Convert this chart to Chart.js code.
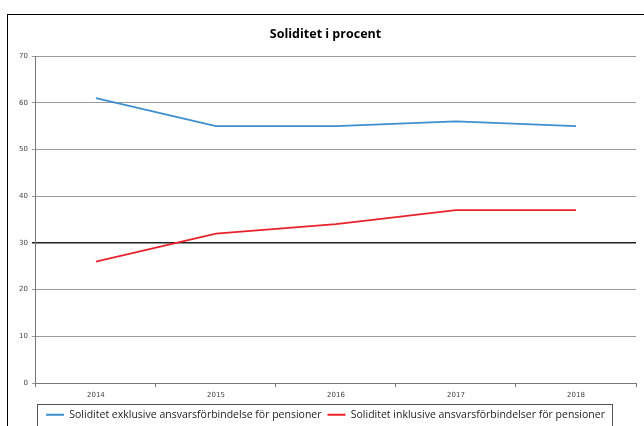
<!DOCTYPE html>
<html>
<head>
<meta charset="utf-8">
<script src="https://cdn.jsdelivr.net/npm/chart.js@4/dist/chart.umd.min.js"></script>
<style>
  body { margin: 0; background: #ffffff; }
  #chartContainer { width: 644px; height: 426px; }
</style>
</head>
<body>
<div id="chartContainer"><canvas id="myChart"></canvas></div>
<script>
// Data
const years = ['2014', '2015', '2016', '2017', '2018']
const exklusive = [61, 55, 55, 56, 55]
const inklusive = [26, 32, 34, 37, 37]
const yTicks = [0, 10, 20, 30, 40, 50, 60, 70]

// Frame round the whole chart and a box round the legend
const framePlugin = {
    id: 'frame',
    afterDraw(chart) {
        const ctx = chart.ctx
        ctx.save()
        ctx.strokeStyle = '#000000'
        ctx.lineWidth = 1
        ctx.strokeRect(7.5, 14.5, 640, 420)

        const lg = chart.legend
        if (lg && lg.legendHitBoxes.length) {
            let l = Infinity, r = -Infinity, t = Infinity, b = -Infinity
            lg.legendHitBoxes.forEach(h => {
                l = Math.min(l, h.left); r = Math.max(r, h.left + h.width)
                t = Math.min(t, h.top); b = Math.max(b, h.top + h.height)
            })
            ctx.strokeStyle = '#555555'
            ctx.strokeRect(Math.round(l) - 8.5, Math.round(t) - 5.5, Math.round(r - l) + 16, Math.round(b - t) + 11)
        }
        ctx.restore()
    }
}

const ctx = document.getElementById('myChart').getContext('2d')
const myChart = new Chart(ctx, {
    type: 'line',
    data: {
        labels: years,
        datasets: [{
            label: 'Soliditet exklusive ansvarsförbindelse för pensioner',
            data: exklusive,
            borderColor: '#3d8fcf',
            backgroundColor: '#3d8fcf',
            borderWidth: 1.8,
            pointRadius: 0,
            tension: 0
        }, {
            label: 'Soliditet inklusive ansvarsförbindelser för pensioner',
            data: inklusive,
            borderColor: '#e8222c',
            backgroundColor: '#e8222c',
            borderWidth: 1.8,
            pointRadius: 0,
            tension: 0
        }]
    },
    options: {
        responsive: true,
        maintainAspectRatio: false,
        animation: false,
        layout: { padding: { left: 15, right: 8, top: 22, bottom: -4 } },
        plugins: {
            title: {
                display: true,
                text: 'Soliditet i procent',
                color: '#000000',
                font: { family: 'Open Sans', size: 12.5, weight: 'bold' },
                padding: { top: 5, bottom: 14 }
            },
            legend: {
                position: 'bottom',
                labels: {
                    color: '#222222',
                    font: { family: 'Open Sans', size: 10.5 },
                    usePointStyle: true,
                    pointStyle: 'line',
                    pointStyleWidth: 18,
                    boxHeight: 8,
                    padding: 6
                }
            },
            tooltip: { enabled: false }
        },
        scales: {
            x: {
                offset: true,
                grid: {
                    offset: true,
                    drawOnChartArea: false,
                    drawTicks: true,
                    tickLength: 4,
                    color: '#777777'
                },
                border: { color: '#777777' },
                ticks: {
                    color: '#444444',
                    font: { family: 'DejaVu Sans', size: 7 },
                    padding: 4
                }
            },
            y: {
                min: 0,
                max: 70,
                afterBuildTicks: axis => { axis.ticks = yTicks.map(v => ({ value: v })) },
                grid: {
                    color: c => c.tick && c.tick.value === 30 ? '#222222' : '#9a9a9a',
                    lineWidth: c => c.tick && c.tick.value === 30 ? 1.5 : 1,
                    tickLength: 4
                },
                border: { color: '#777777' },
                ticks: {
                    color: '#444444',
                    font: { family: 'DejaVu Sans', size: 7 },
                    padding: 4
                }
            }
        }
    },
    plugins: [framePlugin]
})
</script>
</body>
</html>
